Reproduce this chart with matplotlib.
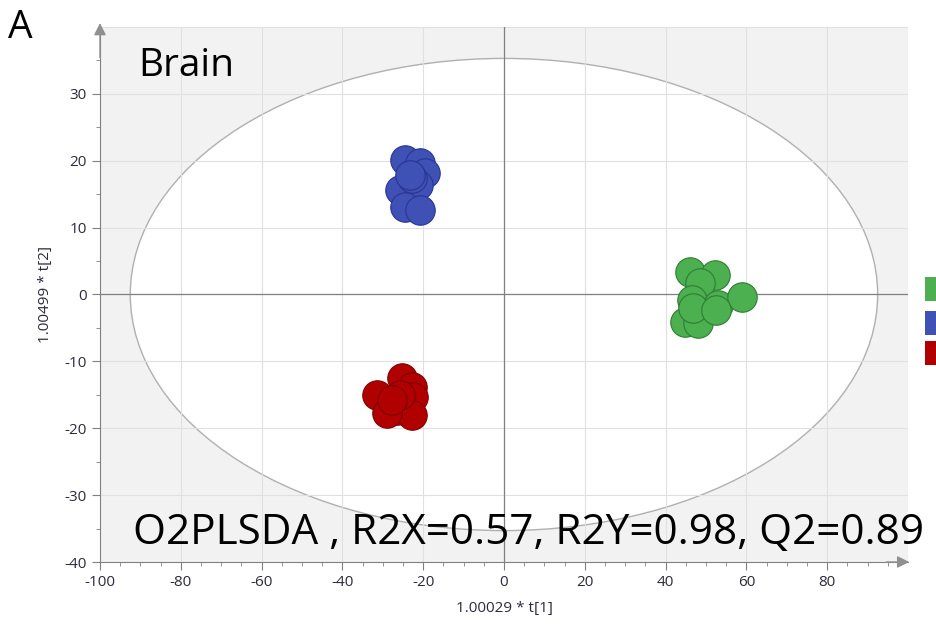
""" O2PLS-DA score plot (t[1] vs t[2]) for brain samples.
"""
import matplotlib
matplotlib.use('Agg')
import matplotlib.pyplot as plt
from matplotlib.patches import Ellipse, Rectangle
import numpy as np

# scores per group
green_t1 = [46.0, 52.2, 48.5, 46.5, 53.0, 58.9, 44.8, 48.0, 46.8, 52.5]
green_t2 = [3.4, 2.9, 1.7, -0.8, -1.6, -0.4, -4.1, -4.2, -2.0, -2.3]
blue_t1 = [-24.5, -20.8, -19.6, -25.7, -21.3, -24.5, -20.8, -22.8, -23.3]
blue_t2 = [20.1, 19.7, 18.2, 15.6, 16.4, 13.1, 12.7, 17.4, 17.9]
red_t1 = [-31.4, -25.2, -22.8, -22.5, -26.5, -22.8, -29.0, -25.7, -27.7]
red_t2 = [-15.0, -12.5, -13.8, -15.3, -17.3, -18.0, -17.7, -15.0, -15.8]

# Hotelling T2 ellipse semi-axes
ell_a = 92.5
ell_b = 35.3

title = "Brain"
stats = "O2PLSDA , R2X=0.57, R2Y=0.98, Q2=0.89"

plt.rcParams['font.family'] = ['Open Sans', 'DejaVu Sans']
plt.rcParams['axes.unicode_minus'] = False

fig = plt.figure(figsize=(9.37, 6.29), dpi=100)
ax = fig.add_axes([0.1067, 0.1065, 0.8623, 0.8506])
ax.set_facecolor('#f2f2f2')

ax.add_patch(Ellipse((0, 0), 2 * ell_a, 2 * ell_b, facecolor='white',
                     edgecolor='#b0b0b0', lw=1.0, zorder=1))

for xv in range(-100, 101, 20):
    ax.axvline(xv, color='#e0e0e0', lw=0.8, zorder=2)
for yv in range(-40, 41, 10):
    ax.axhline(yv, color='#e0e0e0', lw=0.8, zorder=2)
ax.axvline(0, color='#808080', lw=0.9, zorder=2)
ax.axhline(0, color='#808080', lw=0.9, zorder=2)

ms = 450
ax.scatter(green_t1, green_t2, s=ms, c='#4caf50', edgecolors='#2e7d32', lw=0.8, zorder=3)
ax.scatter(blue_t1, blue_t2, s=ms, c='#3f51b5', edgecolors='#283593', lw=0.8, zorder=3)
ax.scatter(red_t1, red_t2, s=ms, c='#b00000', edgecolors='#7f0000', lw=0.8, zorder=3)

ax.set_xlim(-100, 100)
ax.set_ylim(-40, 40)
ax.set_xticks(range(-100, 81, 20))
ax.set_xticks(range(-100, 100, 5), minor=True)
ax.set_yticks(range(-40, 31, 10))
ax.set_yticks(range(-40, 40, 5), minor=True)
ax.tick_params(colors='#808080', labelcolor='#2b2b3b', labelsize=11, length=6)
ax.tick_params(which='minor', colors='#808080', length=3)
for side in ['top', 'right']:
    ax.spines[side].set_visible(False)
for side in ['left', 'bottom']:
    ax.spines[side].set_color('#808080')

# axis arrows
ax.annotate('', xy=(101, -40), xytext=(94, -40), annotation_clip=False,
            arrowprops=dict(arrowstyle='-|>', color='#909090', lw=1, mutation_scale=18))
ax.annotate('', xy=(-100, 41), xytext=(-100, 35), annotation_clip=False,
            arrowprops=dict(arrowstyle='-|>', color='#909090', lw=1, mutation_scale=18))

ax.set_xlabel('1.00029 * t[1]', fontsize=11, color='#2b2b3b', labelpad=8)
ax.set_ylabel('1.00499 * t[2]', fontsize=11, color='#2b2b3b', labelpad=8)

ax.text(-90.5, 37.0, title, fontsize=28, va='top', ha='left', color='black', zorder=5)
ax.text(-91.8, -35.6, stats, fontsize=30.4, va='center', ha='left',
        color='black', zorder=5)
fig.text(0.009, 0.985, 'A', fontsize=28, va='top', ha='left')

# legend swatches, cut by the figure edge
for yb, col in [(0.522, '#4caf50'), (0.468, '#3f51b5'), (0.420, '#b00000')]:
    fig.patches.append(Rectangle((0.987, yb), 0.03, 0.038, transform=fig.transFigure,
                                 facecolor=col, edgecolor='none'))

plt.savefig('out.png', dpi=100)
plt.close()
